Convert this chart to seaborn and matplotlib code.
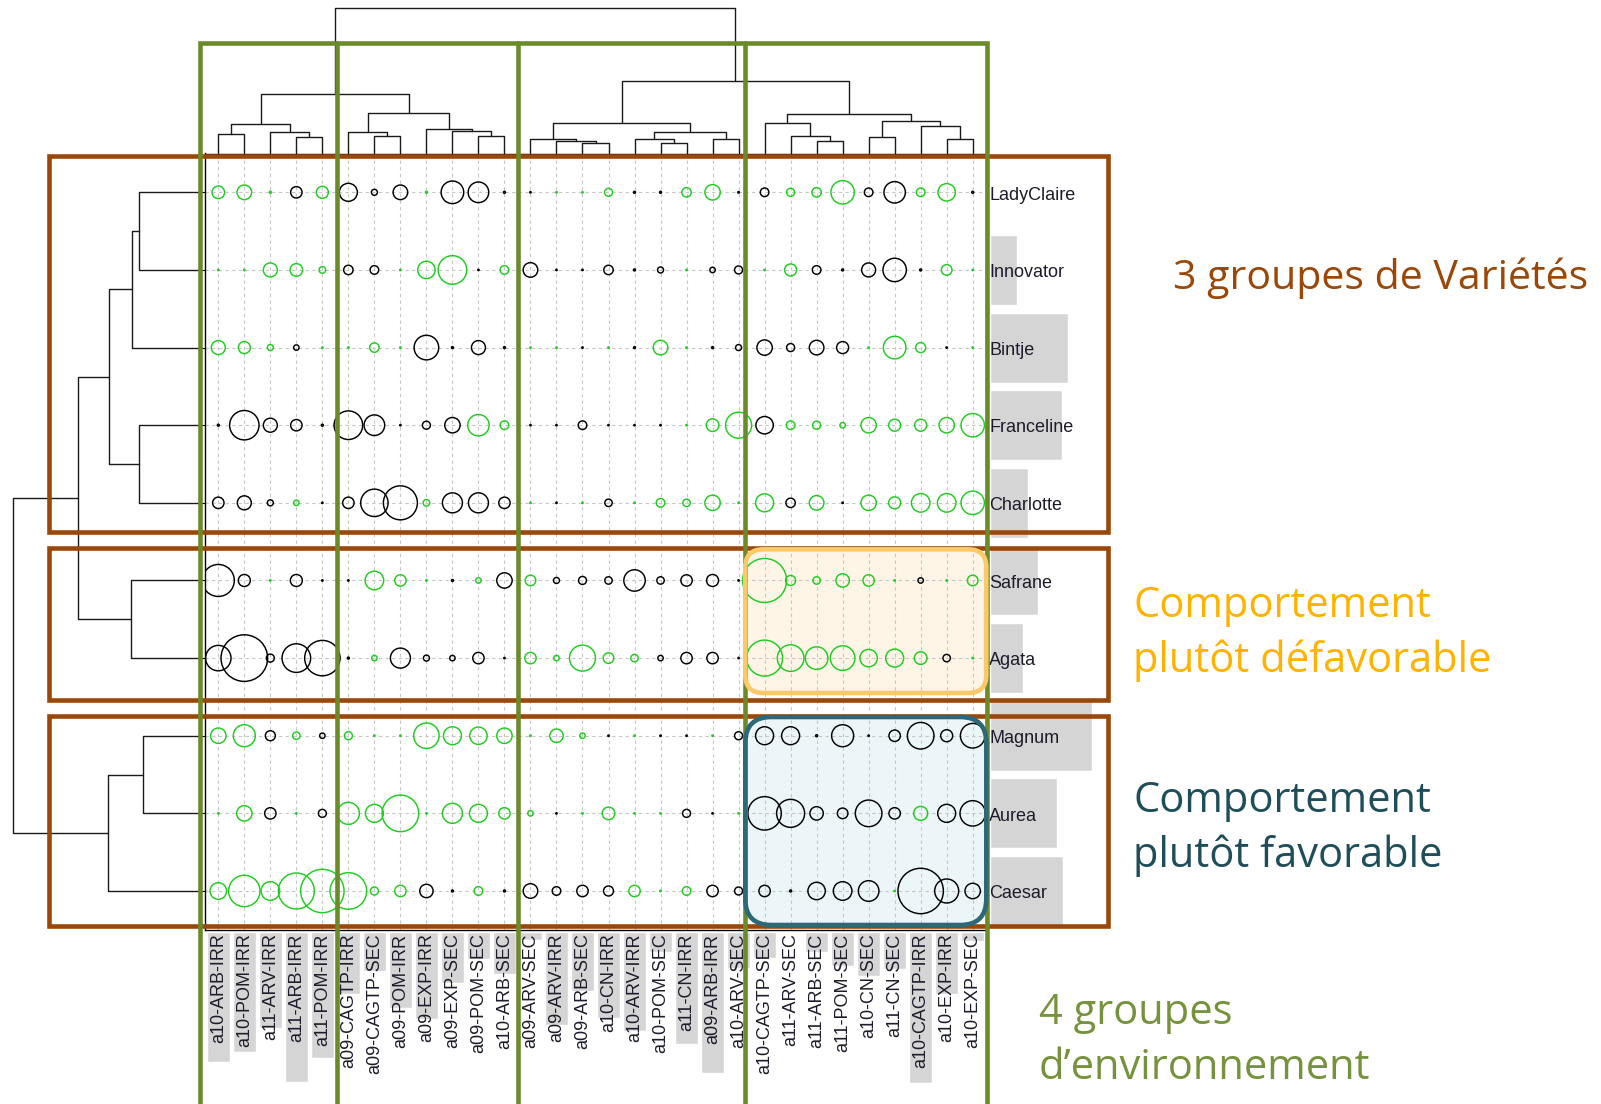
import numpy as np
import pandas as pd
import matplotlib
matplotlib.use("Agg")
import matplotlib.pyplot as plt
from matplotlib.patches import Rectangle, FancyBboxPatch
import seaborn as sns

# ---------------------------------------------------------------- data
varieties = ["LadyClaire", "Innovator", "Bintje", "Franceline", "Charlotte",
             "Safrane", "Agata", "Magnum", "Aurea", "Caesar"]

environments = ["a10-ARB-IRR", "a10-POM-IRR", "a11-ARV-IRR", "a11-ARB-IRR", "a11-POM-IRR",
                "a09-CAGTP-IRR", "a09-CAGTP-SEC", "a09-POM-IRR", "a09-EXP-IRR", "a09-EXP-SEC",
                "a09-POM-SEC", "a10-ARB-SEC", "a09-ARV-SEC", "a09-ARV-IRR", "a09-ARB-SEC",
                "a10-CN-IRR", "a10-ARV-IRR", "a10-POM-SEC", "a11-CN-IRR", "a09-ARB-IRR",
                "a10-ARV-SEC", "a10-CAGTP-SEC", "a11-ARV-SEC", "a11-ARB-SEC", "a11-POM-SEC",
                "a10-CN-SEC", "a11-CN-SEC", "a10-CAGTP-IRR", "a10-EXP-IRR", "a10-EXP-SEC"]

# interaction scores (variety x environment); positive = green, negative = black
score_ladyclaire = [6.3, 7.3, 1, -5.7, 6, -9, -3, -7.3, 1, -11.3, -10.3, -1, -0.7, 0.7, 0.7,
                    4, -1, -1, 4.7, 7.7, -0.8, -4.3, 4, 4.7, 11.7, -4.3, -10.7, 4.3, 8.7, -1]
score_innovator = [0.7, 0.7, 7, 6.3, 3.3, -4.7, -4.3, 0.7, 8.7, 14.3, -0.7, 4.3, -7.3, -0.7, -0.7,
                   -4.7, -1, -3, 0.7, -2.7, -4, 0.7, 6, -4.3, -1, -7, -11.7, -1, 5.3, 0.7]
score_bintje = [7, 6, 3, -2.7, 0.7, 0.7, 4.7, 0.7, -12.3, -1, -7, -1, 0.7, 0.7, -0.7,
                0.7, -1, 7.3, 0.7, -1, -3, -7.7, -4, -7.3, -6, 0.7, 11.3, 5, -0.7, 0.7]
score_franceline = [-1, -14.7, -7, -5.7, -1, -14.3, -10.3, -0.7, -4, -7.7, 10.7, 4.3, -0.7, -0.7, -4.3,
                    -0.7, -0.7, -0.7, 0.7, 6.3, 13, -8.7, 4.3, 4, 2.7, 7.7, 6, 6, 7.7, 11.7]
score_charlotte = [-5.7, -7, -3, 2.7, -0.7, -5.7, -13.7, -17, 3.3, -10, -10, -5.7, 0.7, -0.7, 0.7,
                   -3.7, 0.7, 4.3, 3.7, 7.7, 0.7, 9, -4.7, 7.3, -0.7, 7.7, 6, 9.3, 9.3, 11.7]
score_safrane = [-16, -6, 0.7, -6, -0.7, -0.7, 9.3, 5.7, 0.7, -1, 2.7, -7.7, 5.3, -3, -4,
                 -3.7, -10.7, -3.7, -5.7, -6, -0.7, 22, 5, 3.7, 6.7, 5.7, 0.7, -2.7, 0.7, 5.3]
score_agata = [-12.7, -23.3, -4, -14.3, -17.7, -1, 2.7, -10, -3, -2.7, -5.7, -0.7, 5.7, 2.7, 13,
               5.3, 3.7, -2.7, -5.7, -5.7, -0.7, 18, 13.3, 11.3, 12.3, 8.7, 9, 6.3, -3.7, 0.7]
score_magnum = [7.7, 11, -5, 3.7, -2.7, 4, 0.7, 0.7, 12.7, 9, 8.7, 7.7, 0.7, 6.7, 2.7,
                -0.7, 0.7, -0.7, -0.7, 0.7, -4, -9, -9, -1, -11, -0.7, -5.7, -13.3, -6, -12.3]
score_aurea = [0.7, 7.7, -5.7, 0.7, -4, 11, 9, 18.3, 0.7, 10, 9, 5.7, 2.7, -0.7, 0.7,
               6.3, 0.7, 0.7, -4, -0.7, 0.7, -16.7, -14, -6.7, -5.3, -13.3, -5.7, 7, -9, -12.7]
score_caesar = [8.3, 15.7, 9.3, 18, 21.7, 18.3, 4, 5.7, -6.7, -1, 4.3, -1, -7.3, -4.3, -5.7,
                -5, 5.7, 0.7, 4.3, -5.7, -4, -5.7, -1, -8.7, -9.3, -10.3, 0.7, -22.7, -12, -7.7]

scores = [score_ladyclaire, score_innovator, score_bintje, score_franceline, score_charlotte,
          score_safrane, score_agata, score_magnum, score_aurea, score_caesar]

# marginal statistics shown as grey bars behind the labels
variety_bar = [0, 27, 78, 72, 38, 48, 33, 102, 67, 73]
environment_bar = [130, 120, 96, 150, 126, 62, 39, 76, 87, 51, 27, 42, 8, 93, 59,
                   86, 99, 20, 112, 141, 36, 26, 0, 20, 34, 44, 37, 151, 62, 9]

# hierarchical clustering: (left node, right node, height); node n+k is the k-th merge
env_merges = [(0, 1, 54), (3, 4, 45), (2, 31, 60), (30, 32, 85), (6, 7, 50), (5, 34, 60),
              (10, 11, 50), (9, 36, 65), (8, 37, 70), (35, 38, 119), (33, 39, 174),
              (14, 15, 29), (13, 41, 34), (12, 42, 39), (17, 18, 29), (16, 44, 39),
              (19, 20, 39), (45, 46, 60), (43, 47, 89), (23, 24, 34), (22, 49, 50),
              (21, 50, 89), (25, 26, 45), (28, 29, 40), (27, 53, 79), (52, 54, 95),
              (51, 55, 114), (48, 56, 215), (40, 57, 432)]
variety_merges = [(0, 1, 182), (10, 2, 205), (3, 4, 182), (11, 12, 272), (5, 6, 207),
                  (13, 14, 367), (7, 8, 170), (16, 9, 277), (15, 17, 560)]

# ---------------------------------------------------------------- style
W, H = 1601, 1104
sns.set_style("white")
plt.rcParams["font.family"] = ["Liberation Sans", "DejaVu Sans"]

GREEN_PT = "#1fcc1f"
OLIVE = "#6b8a2a"
BROWN = "#9a4708"
GOLD_EDGE = "#fbc967"
TEAL_EDGE = "#2c6878"
LABEL_COL = "#1c1c2a"

fig = plt.figure(figsize=(W / 100, H / 100), dpi=100)


def px_axes(x0, y0, x1, y1):
    return fig.add_axes([x0 / W, 1 - y1 / H, (x1 - x0) / W, (y1 - y0) / H])


X0, X1, Y0, Y1 = 205.3, 985.7, 153.5, 929.8
nr, nc = len(varieties), len(environments)

# ---------------------------------------------------------------- main bubble table
ax = px_axes(X0, Y0, X1, Y1)
ax.set_facecolor("white")

rows = []
for i, v in enumerate(varieties):
    for j, e in enumerate(environments):
        val = scores[i][j]
        rows.append({"variety": v, "environment": e, "row": i, "col": j,
                     "score": val, "area": val ** 2, "sign": "pos" if val > 0 else "neg"})
df = pd.DataFrame(rows)

vmax = 24.0
px_to_pt = 0.72
smax = (2 * vmax * px_to_pt) ** 2
sns.scatterplot(data=df, x="col", y="row", size="area", sizes=(0, smax),
                size_norm=(0, vmax ** 2), hue="sign",
                palette={"pos": GREEN_PT, "neg": "black"}, linewidth=1.05,
                legend=False, ax=ax, zorder=3)
for coll in ax.collections:
    coll.set_edgecolors(coll.get_facecolors())
    coll.set_facecolors("none")

for j in range(nc):
    ax.axvline(j, color="#c6c6c6", lw=0.8, ls=(0, (3, 3)), zorder=1)
for i in range(nr):
    ax.axhline(i, color="#c6c6c6", lw=0.8, ls=(0, (3, 3)), zorder=1)

ax.set_xlim(-0.5, nc - 0.5)
ax.set_ylim(nr - 0.5, -0.5)
ax.set_xlabel("")
ax.set_ylabel("")
ax.set_xticks(range(nc))
ax.set_yticks(range(nr))
ax.tick_params(top=True, bottom=False, left=True, right=False,
               labeltop=False, labelbottom=False, labelleft=False,
               direction="out", length=3, width=0.8, color="black")
for s in ax.spines.values():
    s.set_visible(True)
    s.set_color("black")
    s.set_linewidth(1.0)


# ---------------------------------------------------------------- dendrograms
def dendro_segments(n_leaves, merges):
    pos = {i: float(i) for i in range(n_leaves)}
    hgt = {i: 0.0 for i in range(n_leaves)}
    segs = []
    for k, (a, b, h) in enumerate(merges):
        segs.append(([pos[a], pos[a], pos[b], pos[b]], [hgt[a], h, h, hgt[b]]))
        pos[n_leaves + k] = (pos[a] + pos[b]) / 2
        hgt[n_leaves + k] = h
    return segs


axt = px_axes(X0, 8.3, X1, 152.3)
for xs, hs in dendro_segments(nc, env_merges):
    axt.plot(xs, hs, color="#1a1a1a", lw=1.0, clip_on=False)
axt.set_xlim(-0.5, nc - 0.5)
axt.set_ylim(0, 432)
axt.axis("off")

axl = px_axes(13.3, Y0, 200, Y1)
for ys, hs in dendro_segments(nr, variety_merges):
    axl.plot(hs, ys, color="#1a1a1a", lw=1.0, clip_on=False)
axl.set_xlim(560, 0)
axl.set_ylim(nr - 0.5, -0.5)
axl.axis("off")

# ---------------------------------------------------------------- label bars
axb = px_axes(X0, 932, X1, H)
bdf = pd.DataFrame({"environment": environments, "value": environment_bar})
sns.barplot(data=bdf, x="environment", y="value", order=environments,
            color="#d5d5d5", saturation=1, width=0.88, ax=axb)
axb.set_xlim(-0.5, nc - 0.5)
axb.set_ylim(H - 932, 0)
axb.axis("off")
for j, e in enumerate(environments):
    axb.text(j, 1.5, e, rotation=90, ha="center", va="top",
             fontsize=13, color=LABEL_COL)

axr = px_axes(990, Y0, 1140, Y1)
rdf = pd.DataFrame({"variety": varieties, "value": variety_bar})
sns.barplot(data=rdf, y="variety", x="value", order=varieties, orient="h",
            color="#d5d5d5", saturation=1, width=0.9, ax=axr)
axr.set_xlim(0, 150)
axr.set_ylim(nr - 0.5, -0.5)
axr.axis("off")
for i, v in enumerate(varieties):
    axr.text(-1, i + 0.035, v, ha="left", va="center", fontsize=13, color=LABEL_COL)

# ---------------------------------------------------------------- annotation layer
ov = fig.add_axes([0, 0, 1, 1])
ov.set_zorder(10)
ov.set_xlim(0, W)
ov.set_ylim(H, 0)
ov.axis("off")
ov.patch.set_alpha(0)

LW = 3.3
# shaded highlight regions, drawn under the bubbles
gold_fill = FancyBboxPatch((745.3, 549.3), 241, 143.7,
                           boxstyle="round,pad=0,rounding_size=18",
                           fc="#fef5e6", ec="none", transform=ov.transData,
                           zorder=0.8, clip_on=False)
teal_fill = FancyBboxPatch((745.3, 717), 241, 208,
                           boxstyle="round,pad=0,rounding_size=26",
                           fc="#ecf5f8", ec="none", transform=ov.transData,
                           zorder=0.8, clip_on=False)
ax.add_patch(gold_fill)
ax.add_patch(teal_fill)

# variety groups
for (ya, yb) in [(155.5, 531.5), (547.5, 699.5), (715.5, 926)]:
    ov.add_patch(Rectangle((48.5, ya), 1108 - 48.5, yb - ya, fill=False,
                           ec=BROWN, lw=LW, joinstyle="miter", zorder=1))

# environment groups
ov.plot([200, 200, 987, 987], [H + 10, 43, 43, H + 10], color=OLIVE, lw=LW,
        solid_joinstyle="miter", zorder=2, clip_on=False)
for xg in [336.5, 518, 744.5]:
    ov.plot([xg, xg], [43, H + 10], color=OLIVE, lw=LW, zorder=2, clip_on=False)

# highlight outlines
ov.add_patch(FancyBboxPatch((745.3, 549.3), 241, 143.7,
                            boxstyle="round,pad=0,rounding_size=18",
                            fc="none", ec=GOLD_EDGE, lw=LW, zorder=3))
ov.add_patch(FancyBboxPatch((745.3, 717), 241, 208,
                            boxstyle="round,pad=0,rounding_size=26",
                            fc="none", ec=TEAL_EDGE, lw=LW, zorder=3))

big = dict(family=["Open Sans", "DejaVu Sans"], ha="left", va="baseline")
ov.text(1173, 289, "3 groupes de Variétés", color=BROWN, fontsize=29.6, **big)
ov.text(1133, 617, "Comportement", color="#ffb300", fontsize=30, **big)
ov.text(1133, 672, "plutôt défavorable", color="#ffb300", fontsize=30, **big)
ov.text(1133, 812, "Comportement", color="#1f4e5a", fontsize=30, **big)
ov.text(1133, 867, "plutôt favorable", color="#1f4e5a", fontsize=30, **big)
ov.text(1039, 1024, "4 groupes", color="#76923c", fontsize=30, **big)
ov.text(1039, 1079, "d\u2019environnement", color="#76923c", fontsize=30, **big)

fig.savefig("out.png", dpi=100)
